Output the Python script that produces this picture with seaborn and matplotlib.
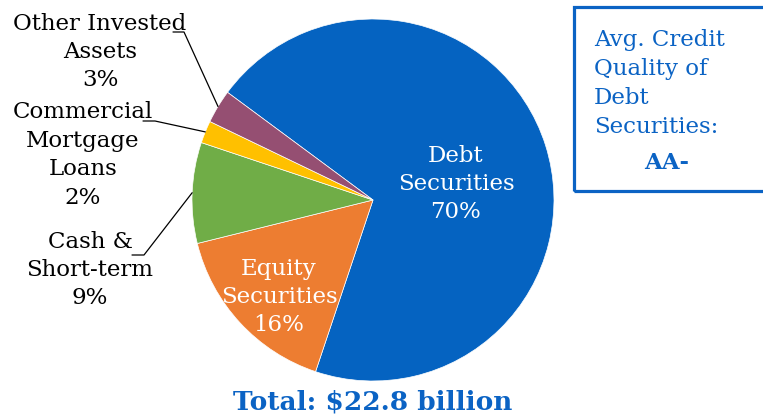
import matplotlib
matplotlib.use("Agg")
import matplotlib.pyplot as plt
from matplotlib.patches import Rectangle
import numpy as np
import seaborn as sns

# Portfolio composition (percent of total invested assets)
categories = ["Debt\nSecurities", "Equity\nSecurities", "Cash &\nShort-term",
              "Commercial\nMortgage\nLoans", "Other Invested\nAssets"]
shares = [70, 16, 9, 2, 3]
slice_colors = ["#0563C1", "#ED7D31", "#70AD47", "#FFC000", "#954F72"]
total_label = "Total: $22.8 billion"
credit_note = "Avg. Credit\nQuality of\nDebt\nSecurities:"
credit_rating = "AA-"

sns.set_theme(style="white")
plt.rcParams["font.family"] = ["DejaVu Serif"]

W, H = 763, 415
fig = plt.figure(figsize=(W / 100, H / 100), dpi=100)
ax = fig.add_axes([0, 0, 1, 1])

cx, cy, r = 373, H - 200, 181
wedges, _ = ax.pie(shares, colors=slice_colors, startangle=143.5,
                   counterclock=False, center=(cx, cy), radius=r,
                   wedgeprops=dict(linewidth=0.5, edgecolor="white"))
ax.set_xlim(0, W)
ax.set_ylim(0, H)
ax.set_aspect("equal", adjustable="box")
ax.axis("off")

fs = 16.5
blue = "#0B63C4"

# Labels inside the two large slices
inside_pos = {0: (456, 184), 1: (279, 297)}
for i, (x, y) in inside_pos.items():
    ax.text(x, H - y, f"{categories[i]}\n{shares[i]}%", ha="center", va="center",
            color="white", fontsize=fs, linespacing=1.33)

# Outside labels with leader lines to the small slices
outside = {
    4: dict(pos=(100, 52), path=[(173, 32), (184, 32)]),
    3: dict(pos=(83, 155), path=[(143, 121), (155, 121)]),
    2: dict(pos=(90, 270), path=[(132, 255), (144, 255)]),
}
for i, spec in outside.items():
    x, y = spec["pos"]
    ax.text(x, H - y, f"{categories[i]}\n{shares[i]}%", ha="center", va="center",
            color="black", fontsize=fs, linespacing=1.38)
    w = wedges[i]
    mid = np.deg2rad((w.theta1 + w.theta2) / 2)
    ex, ey = cx + r * np.cos(mid), cy + r * np.sin(mid)
    pts = [(px, H - py) for px, py in spec["path"]] + [(ex, ey)]
    ax.plot([p[0] for p in pts], [p[1] for p in pts], color="black", lw=0.9)

# Credit quality call-out box
ax.add_patch(Rectangle((574, H - 191), 220, 184, fill=False, edgecolor=blue,
                       linewidth=2.3, clip_on=False))
ax.text(594, H - 83.5, credit_note, ha="left", va="center", color=blue,
        fontsize=fs, linespacing=1.43)
ax.text(667, H - 163, credit_rating, ha="center", va="center", color=blue,
        fontsize=fs, fontweight="bold")

# Total under the pie
ax.text(373, H - 402, total_label, ha="center", va="center", color=blue,
        fontsize=19, fontweight="bold")

fig.savefig("out.png", dpi=100)
